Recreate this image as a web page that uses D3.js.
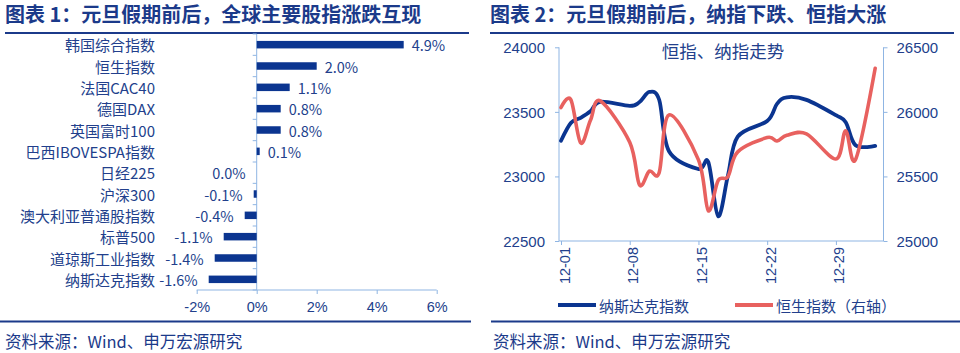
<!DOCTYPE html>
<html>
<head>
<meta charset="utf-8">
<script src="https://cdn.jsdelivr.net/npm/d3@7"></script>
<style>
  html, body { margin: 0; padding: 0; background: #fff; }
  svg { display: block; font-family: "Noto Sans CJK SC", "Liberation Sans", sans-serif; }
</style>
</head>
<body>
<div id="chart"></div>
<script>
// ---- data: chart 1 (bar) ----
const barCategories = ['韩国综合指数', '恒生指数', '法国CAC40', '德国DAX', '英国富时100', '巴西IBOVESPA指数',
  '日经225', '沪深300', '澳大利亚普通股指数', '标普500', '道琼斯工业指数', '纳斯达克指数'];
const barValues = [4.9, 2.0, 1.1, 0.8, 0.8, 0.1, 0.0, -0.1, -0.4, -1.1, -1.4, -1.6];
const barTicks = [-2, 0, 2, 4, 6];

// ---- data: chart 2 (lines) ----
const nasdaqDates = ['2025-12-01', '2025-12-02', '2025-12-03', '2025-12-04', '2025-12-05', '2025-12-08', '2025-12-09',
  '2025-12-10', '2025-12-11', '2025-12-12', '2025-12-15', '2025-12-16', '2025-12-17', '2025-12-18', '2025-12-19',
  '2025-12-22', '2025-12-23', '2025-12-24', '2025-12-26', '2025-12-29', '2025-12-30', '2025-12-31', '2026-01-02'];
const nasdaqValues = [23276, 23414, 23454, 23505, 23578, 23546, 23576, 23654, 23594, 23195, 23057, 23111, 22693,
  23006, 23308, 23429, 23562, 23613, 23593, 23474, 23419, 23242, 23236];
const hsiDates = ['2025-12-01', '2025-12-02', '2025-12-03', '2025-12-04', '2025-12-05', '2025-12-08', '2025-12-09',
  '2025-12-10', '2025-12-11', '2025-12-12', '2025-12-15', '2025-12-16', '2025-12-17', '2025-12-18', '2025-12-19',
  '2025-12-22', '2025-12-23', '2025-12-24', '2025-12-26', '2025-12-29', '2025-12-30', '2025-12-31', '2026-01-02'];
const hsiValues = [26033, 26095, 25760, 25935, 26085, 25765, 25434, 25541, 25530, 25976, 25628, 25235, 25468,
  25498, 25690, 25801, 25774, 25818, 25830, 25635, 25854, 25631, 26338];
const xTickDates = ['2025-12-01', '2025-12-08', '2025-12-15', '2025-12-22', '2025-12-29'];
const leftTicks = [22500, 23000, 23500, 24000];
const rightTicks = [25000, 25500, 26000, 26500];

const W = 960, H = 353;
const NAVY = '#0b3590', RED = '#e8615f', AXIS = '#8fb5e3', TEXT = '#223f8c', TITLE = '#1b3a8a';

const svg = d3.select('#chart').append('svg')
  .attr('width', W).attr('height', H).attr('viewBox', `0 0 ${W} ${H}`);
svg.append('rect').attr('width', W).attr('height', H).attr('fill', '#fff');

// ---- titles & footers ----
function header(x0, x1, title) {
  svg.append('text').attr('x', x0).attr('y', 22).attr('font-size', 20).attr('font-weight', 'bold')
    .attr('fill', TITLE).text(title);
  svg.append('rect').attr('x', x0).attr('y', 32).attr('width', x1 - x0).attr('height', 2).attr('fill', TITLE);
}
function footer(x0, x1, tx) {
  svg.append('rect').attr('x', x0).attr('y', 320.5).attr('width', x1 - x0).attr('height', 2).attr('fill', TITLE);
  svg.append('text').attr('x', tx).attr('y', 341).attr('font-size', 16.5).attr('fill', TITLE)
    .attr('dominant-baseline', 'central').text('资料来源：Wind、申万宏源研究');
}
header(5, 469, '图表 1：元旦假期前后，全球主要股指涨跌互现');
header(490, 954, '图表 2：元旦假期前后，纳指下跌、恒指大涨');
footer(0, 471, 5);
footer(491, 960, 493);

// ---- chart 1: horizontal bars ----
{
  const x = d3.scaleLinear().domain([-2, 6]).range([196.7, 436.7]);
  const y = d3.scaleBand().domain(barCategories).range([34, 290]);
  const barH = 7.5;
  const g = svg.append('g');

  // x axis
  g.append('g')
    .attr('transform', 'translate(0,290)')
    .call(d3.axisBottom(x).tickValues(barTicks).tickSize(4).tickFormat(d => d + '%'))
    .call(a => a.select('.domain').attr('stroke', AXIS).attr('d', `M${x(-2)},0H${x(6)}`))
    .call(a => a.selectAll('.tick line').attr('stroke', AXIS))
    .call(a => a.selectAll('text').attr('y', 17).attr('dy', null).attr('dominant-baseline', 'central')
      .attr('font-size', 14.5).attr('fill', TEXT).attr('font-family', null));

  // category axis at zero
  const y0 = x(0);
  g.append('line').attr('x1', y0).attr('x2', y0).attr('y1', 34).attr('y2', 290).attr('stroke', AXIS);
  g.selectAll('.cat-tick').data(d3.range(barCategories.length + 1)).join('line')
    .attr('x1', y0 - 4).attr('x2', y0)
    .attr('y1', i => 34 + i * y.step()).attr('y2', i => 34 + i * y.step())
    .attr('stroke', AXIS);

  g.selectAll('.cat').data(barCategories).join('text')
    .attr('x', 155).attr('y', d => y(d) + y.bandwidth() / 2)
    .attr('text-anchor', 'end').attr('dominant-baseline', 'central')
    .attr('font-size', 15).attr('fill', TEXT).text(d => d);

  g.selectAll('.bar').data(barValues).join('rect')
    .attr('x', d => x(Math.min(0, d)))
    .attr('y', (d, i) => y(barCategories[i]) + (y.bandwidth() - barH) / 2)
    .attr('width', d => Math.max(Math.abs(x(d) - x(0)), d === 0 ? 0 : 1.5))
    .attr('height', barH).attr('fill', NAVY);

  g.selectAll('.val').data(barValues).join('text')
    .attr('x', d => d > 0 ? x(d) + 8 : x(d) - 11)
    .attr('y', (d, i) => y(barCategories[i]) + y.bandwidth() / 2)
    .attr('text-anchor', d => d > 0 ? 'start' : 'end')
    .attr('dominant-baseline', 'central')
    .attr('font-size', 14.5).attr('fill', TEXT)
    .text(d => d.toFixed(1) + '%');
}

// ---- chart 2: dual axis lines ----
{
  const parse = d3.timeParse('%Y-%m-%d');
  const left = 559, right = 883.5, top = 47.3, bottom = 241;
  const x = d3.scaleTime().domain([parse('2025-12-01'), parse('2026-01-03')]).range([561, 885]);
  const yL = d3.scaleLinear().domain([22500, 24000]).range([bottom, top]);
  const yR = d3.scaleLinear().domain([25000, 26500]).range([bottom, top]);
  const g = svg.append('g');

  // subtitle
  g.append('text').attr('x', 723).attr('y', 50).attr('text-anchor', 'middle')
    .attr('dominant-baseline', 'central').attr('font-size', 17.5).attr('fill', TEXT).text('恒指、纳指走势');

  // left axis
  g.append('g').attr('transform', `translate(${left},0)`)
    .call(d3.axisLeft(yL).tickValues(leftTicks).tickSize(4).tickPadding(10).tickFormat(d3.format('d')))
    .call(a => a.select('.domain').attr('stroke', AXIS).attr('d', `M0,${top}V${bottom}`))
    .call(a => a.selectAll('.tick line').attr('stroke', AXIS))
    .call(a => a.selectAll('text').attr('font-size', 15).attr('fill', TEXT).attr('font-family', null)
      .attr('dy', null).attr('dominant-baseline', 'central'));

  // right axis
  g.append('g').attr('transform', `translate(${right},0)`)
    .call(d3.axisRight(yR).tickValues(rightTicks).tickSize(4).tickPadding(9).tickFormat(d3.format('d')))
    .call(a => a.select('.domain').attr('stroke', AXIS).attr('d', `M0,${top}V${bottom}`))
    .call(a => a.selectAll('.tick line').attr('stroke', AXIS))
    .call(a => a.selectAll('text').attr('font-size', 15).attr('fill', TEXT).attr('font-family', null)
      .attr('dy', null).attr('dominant-baseline', 'central'));

  // x axis
  g.append('g').attr('transform', `translate(0,${bottom})`)
    .call(d3.axisBottom(x).tickValues(xTickDates.map(parse)).tickSize(4).tickFormat(d3.timeFormat('%m-%d')))
    .call(a => a.select('.domain').attr('stroke', AXIS).attr('d', `M${left},0H${right}`))
    .call(a => a.selectAll('.tick line').attr('stroke', AXIS))
    .call(a => a.selectAll('text')
      .attr('transform', 'rotate(-90)').attr('text-anchor', 'end')
      .attr('x', -6).attr('y', 3).attr('dy', null).attr('dominant-baseline', 'central')
      .attr('font-size', 14.5).attr('fill', TEXT).attr('font-family', null));

  const curve = d3.curveCardinal.tension(0);
  const hsi = hsiDates.map((d, i) => ({ date: parse(d), value: hsiValues[i] }));
  const ndx = nasdaqDates.map((d, i) => ({ date: parse(d), value: nasdaqValues[i] }));

  g.append('path').datum(ndx)
    .attr('fill', 'none').attr('stroke', NAVY).attr('stroke-width', 3.8)
    .attr('stroke-linecap', 'round').attr('stroke-linejoin', 'round')
    .attr('d', d3.line().x(d => x(d.date)).y(d => yL(d.value)).curve(curve));

  g.append('path').datum(hsi)
    .attr('fill', 'none').attr('stroke', RED).attr('stroke-width', 3.6)
    .attr('stroke-linecap', 'round').attr('stroke-linejoin', 'round')
    .attr('d', d3.line().x(d => x(d.date)).y(d => yR(d.value)).curve(curve));

  // legend
  const legend = [
    { label: '纳斯达克指数', color: NAVY, x: 558 },
    { label: '恒生指数（右轴）', color: RED, x: 735 }
  ];
  const lg = g.selectAll('.lg').data(legend).join('g').attr('transform', d => `translate(${d.x},305)`);
  lg.append('line').attr('x1', 0).attr('x2', 38).attr('stroke', d => d.color).attr('stroke-width', 4);
  lg.append('text').attr('x', 41).attr('dominant-baseline', 'central')
    .attr('font-size', 15).attr('fill', TEXT).text(d => d.label);
}
</script>
</body>
</html>
